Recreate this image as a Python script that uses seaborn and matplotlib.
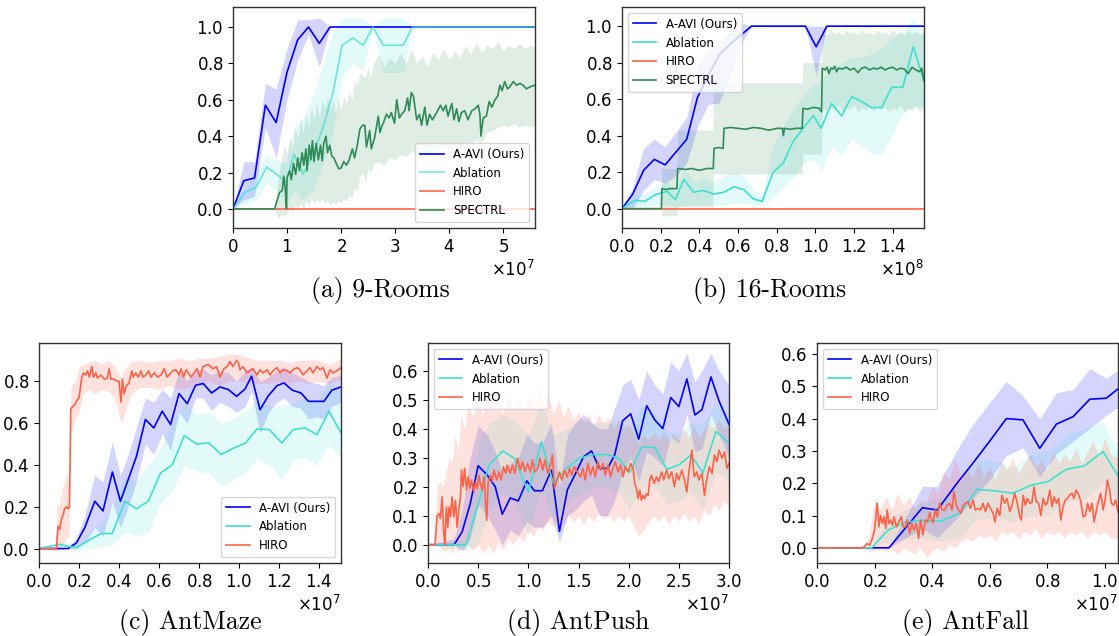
import numpy as np
import matplotlib
matplotlib.use("Agg")
import matplotlib.pyplot as plt
from matplotlib.ticker import MultipleLocator
import seaborn as sns

plt.rcParams['axes.formatter.use_mathtext'] = True
plt.rcParams['axes.edgecolor'] = '#333333'
plt.rcParams['axes.linewidth'] = 1.0
plt.rcParams['font.family'] = ['DejaVu Sans']

C_AVI = '#0000ff'
C_ABL = '#40e0d0'
C_HIRO = '#ff6347'
C_SPEC = '#2e8b57'

LABELS = ['A-AVI (Ours)', 'Ablation', 'HIRO', 'SPECTRL']
CAPTIONS = ['(a) 9-Rooms', '(b) 16-Rooms', '(c) AntMaze', '(d) AntPush', '(e) AntFall']

# ---------------- (a) 9-Rooms  (x in 1e7) ----------------
AVI_A_X = np.linspace(0, 5.59, 29)
AVI_A_Y = [0.0, 0.155, 0.17, 0.57, 0.475, 0.75, 0.93, 1.0, 0.91, 1.0,
           1.0, 1.0, 1.0, 1.0, 1.0, 1.0, 1.0, 1.0, 1.0, 1.0,
           1.0, 1.0, 1.0, 1.0, 1.0, 1.0, 1.0, 1.0, 1.0]
AVI_A_HI = [0.0, 0.26, 0.26, 0.69, 0.66, 0.88, 1.04, 1.04, 1.05, 1.0,
            1.0, 1.0, 1.0, 1.0, 1.0, 1.0, 1.0, 1.0, 1.0, 1.0,
            1.0, 1.0, 1.0, 1.0, 1.0, 1.0, 1.0, 1.0, 1.0]
AVI_A_LO = [0.0, 0.05, 0.07, 0.45, 0.28, 0.6, 0.82, 0.96, 0.78, 1.0,
            1.0, 1.0, 1.0, 1.0, 1.0, 1.0, 1.0, 1.0, 1.0, 1.0,
            1.0, 1.0, 1.0, 1.0, 1.0, 1.0, 1.0, 1.0, 1.0]
# rows: (x, mean, lo, hi)
ABL_A = [(0.00, 0.00, 0.00, 0.00), (0.22, 0.09, 0.03, 0.12), (0.43, 0.12, 0.05, 0.20),
         (0.62, 0.23, 0.14, 0.30), (0.81, 0.19, 0.10, 0.27), (0.98, 0.15, 0.02, 0.25),
         (1.13, 0.30, 0.10, 0.45), (1.30, 0.19, 0.05, 0.50), (1.48, 0.30, 0.10, 0.62),
         (1.67, 0.45, 0.25, 0.80), (1.85, 0.64, 0.40, 0.97), (2.02, 0.90, 0.73, 1.05),
         (2.22, 0.94, 0.80, 1.05), (2.41, 0.90, 0.76, 1.05), (2.59, 1.00, 1.00, 1.00),
         (2.78, 0.90, 0.75, 1.05), (3.15, 0.90, 0.75, 1.05), (3.32, 1.00, 1.00, 1.00),
         (5.59, 1.00, 1.00, 1.00)]
HIRO_A = [(0.0, 0.0), (5.59, 0.0)]
SPEC_A = [(0, 0), (0.77, 0), (0.86, 0.09), (0.91, 0.10), (0.94, 0.18), (0.97, 0.10), (0.99, 0.0),
          (1.0, 0.17), (1.05, 0.21), (1.08, 0.16), (1.12, 0.25), (1.16, 0.19), (1.2, 0.28),
          (1.23, 0.21), (1.28, 0.31), (1.31, 0.24), (1.35, 0.33), (1.37, 0.21), (1.41, 0.35),
          (1.44, 0.27), (1.47, 0.375), (1.5, 0.26), (1.54, 0.36), (1.58, 0.27), (1.62, 0.35),
          (1.65, 0.265), (1.68, 0.36), (1.72, 0.40), (1.75, 0.31), (1.79, 0.35), (1.83, 0.29),
          (1.87, 0.28), (1.91, 0.25), (1.96, 0.22), (2.0, 0.225), (2.05, 0.26), (2.1, 0.24),
          (2.15, 0.27), (2.21, 0.33), (2.25, 0.28), (2.3, 0.35), (2.35, 0.44), (2.4, 0.46),
          (2.44, 0.46), (2.47, 0.34), (2.53, 0.43), (2.56, 0.33), (2.62, 0.39), (2.69, 0.51),
          (2.72, 0.42), (2.76, 0.46), (2.78, 0.47), (2.84, 0.52), (2.89, 0.50), (2.93, 0.53),
          (2.99, 0.47), (3.03, 0.60), (3.08, 0.50), (3.12, 0.52), (3.18, 0.54), (3.23, 0.61),
          (3.26, 0.54), (3.30, 0.64), (3.34, 0.62), (3.40, 0.49), (3.45, 0.52), (3.49, 0.46),
          (3.55, 0.56), (3.59, 0.46), (3.64, 0.52), (3.69, 0.49), (3.77, 0.53), (3.84, 0.57),
          (3.89, 0.54), (3.94, 0.57), (3.98, 0.51), (4.05, 0.58), (4.09, 0.49), (4.14, 0.55),
          (4.18, 0.48), (4.23, 0.53), (4.29, 0.54), (4.35, 0.49), (4.42, 0.54), (4.48, 0.55),
          (4.54, 0.57), (4.57, 0.52), (4.59, 0.40), (4.63, 0.50), (4.69, 0.51), (4.74, 0.59),
          (4.79, 0.56), (4.85, 0.60), (4.90, 0.62), (4.94, 0.68), (4.98, 0.65), (5.03, 0.70),
          (5.08, 0.66), (5.12, 0.67), (5.19, 0.70), (5.25, 0.68), (5.31, 0.69), (5.37, 0.68),
          (5.43, 0.66), (5.49, 0.67), (5.59, 0.68)]
# rows: (x, lo, hi)
SPEC_A_BAND = [(0.77, 0.0, 0.0), (0.8, -0.03, 0.08), (0.85, -0.05, 0.2), (0.9, -0.03, 0.27),
               (0.95, -0.04, 0.35), (1.0, -0.02, 0.3), (1.05, 0.0, 0.4), (1.1, -0.02, 0.33),
               (1.15, 0.02, 0.45), (1.2, 0.0, 0.38), (1.25, 0.03, 0.5), (1.3, 0.0, 0.42),
               (1.35, 0.05, 0.52), (1.4, 0.02, 0.45), (1.45, 0.06, 0.55), (1.5, 0.03, 0.5),
               (1.55, 0.05, 0.58), (1.6, 0.04, 0.5), (1.65, 0.06, 0.6), (1.7, 0.03, 0.55),
               (1.75, 0.05, 0.62), (1.8, 0.02, 0.55), (1.85, 0.04, 0.6), (1.9, 0.02, 0.52),
               (1.95, 0.05, 0.6), (2.0, 0.03, 0.55), (2.05, 0.06, 0.62), (2.1, 0.04, 0.58),
               (2.15, 0.08, 0.65), (2.2, 0.06, 0.6), (2.25, 0.12, 0.7), (2.3, 0.1, 0.68),
               (2.35, 0.18, 0.75), (2.4, 0.2, 0.73), (2.45, 0.15, 0.72), (2.5, 0.22, 0.78),
               (2.55, 0.2, 0.72), (2.6, 0.25, 0.8), (2.7, 0.26, 0.85), (2.8, 0.24, 0.78),
               (2.9, 0.28, 0.83), (3.0, 0.27, 0.8), (3.1, 0.3, 0.86), (3.2, 0.29, 0.8),
               (3.3, 0.32, 0.88), (3.4, 0.3, 0.8), (3.5, 0.32, 0.84), (3.6, 0.31, 0.78),
               (3.7, 0.33, 0.86), (3.8, 0.32, 0.82), (3.9, 0.34, 0.88), (4.0, 0.33, 0.82),
               (4.1, 0.35, 0.87), (4.2, 0.34, 0.83), (4.3, 0.37, 0.9), (4.4, 0.36, 0.85),
               (4.5, 0.38, 0.91), (4.6, 0.36, 0.86), (4.7, 0.42, 0.9), (4.8, 0.43, 0.88),
               (4.9, 0.45, 0.92), (5.0, 0.46, 0.87), (5.1, 0.45, 0.9), (5.2, 0.47, 0.88),
               (5.3, 0.45, 0.91), (5.4, 0.46, 0.88), (5.5, 0.45, 0.9), (5.59, 0.46, 0.89)]

# ---------------- (b) 16-Rooms  (x in 1e8) ----------------
AVI_B_X = np.linspace(0, 1.562, 29)
AVI_B_Y = [0.0, 0.08, 0.21, 0.27, 0.24, 0.31, 0.38, 0.61, 0.73, 0.84,
           0.90, 0.95, 1.0, 1.0, 1.0, 1.0, 1.0, 1.0, 0.887, 1.0,
           1.0, 1.0, 1.0, 1.0, 1.0, 1.0, 1.0, 1.0, 1.0]
AVI_B_HI = [0.0, 0.12, 0.33, 0.38, 0.34, 0.42, 0.5, 0.78, 0.86, 0.91,
            0.97, 1.02, 1.0, 1.0, 1.0, 1.0, 1.0, 1.0, 1.0, 1.0,
            1.0, 1.0, 1.0, 1.0, 1.0, 1.0, 1.0, 1.0, 1.0]
AVI_B_LO = [0.0, 0.0, 0.1, 0.16, 0.14, 0.18, 0.25, 0.45, 0.57, 0.58,
            0.72, 0.9, 1.0, 1.0, 1.0, 1.0, 1.0, 1.0, 0.73, 1.0,
            1.0, 1.0, 1.0, 1.0, 1.0, 1.0, 1.0, 1.0, 1.0]
ABL_B = [(0, 0, 0, 0), (0.066, 0.046, 0.01, 0.08), (0.117, 0.04, 0.01, 0.08),
         (0.173, 0.077, 0.02, 0.12), (0.233, 0.095, 0.02, 0.15), (0.276, 0.05, 0.01, 0.1),
         (0.32, 0.16, 0.02, 0.22), (0.37, 0.09, 0.02, 0.15), (0.42, 0.10, 0.02, 0.17),
         (0.475, 0.08, 0.02, 0.15), (0.527, 0.09, 0.02, 0.18), (0.578, 0.12, 0.03, 0.2),
         (0.63, 0.104, 0.03, 0.18), (0.68, 0.053, 0.02, 0.1), (0.725, 0.04, 0.02, 0.08),
         (0.782, 0.2, 0.06, 0.35), (0.834, 0.25, 0.12, 0.45), (0.886, 0.37, 0.17, 0.55),
         (0.937, 0.44, 0.25, 0.62), (0.99, 0.51, 0.27, 0.68), (1.03, 0.44, 0.2, 0.7),
         (1.084, 0.577, 0.34, 0.78), (1.136, 0.508, 0.29, 0.8), (1.188, 0.614, 0.38, 0.83),
         (1.24, 0.587, 0.34, 0.83), (1.29, 0.554, 0.3, 0.85), (1.343, 0.554, 0.3, 0.88),
         (1.395, 0.665, 0.4, 0.93), (1.452, 0.665, 0.52, 0.97), (1.507, 0.887, 0.56, 1.04),
         (1.562, 0.70, 0.56, 0.95)]
HIRO_B = [(0.0, 0.0), (1.562, 0.0)]
SPEC_B = [(0.0, 0.0), (0.204, 0.0), (0.206, 0.11), (0.23, 0.105), (0.25, 0.11), (0.284, 0.11),
          (0.288, 0.22), (0.33, 0.215), (0.36, 0.22), (0.40, 0.21), (0.44, 0.22), (0.472, 0.22),
          (0.476, 0.33), (0.50, 0.335), (0.523, 0.33), (0.528, 0.44), (0.56, 0.445), (0.60, 0.44),
          (0.64, 0.435), (0.68, 0.445), (0.72, 0.44), (0.76, 0.43), (0.80, 0.44), (0.83, 0.44),
          (0.835, 0.40), (0.84, 0.44), (0.87, 0.435), (0.90, 0.44), (0.932, 0.44), (0.936, 0.55),
          (0.96, 0.545), (0.99, 0.555), (1.02, 0.55), (1.032, 0.53), (1.036, 0.77), (1.05, 0.76),
          (1.06, 0.775), (1.07, 0.74), (1.08, 0.77), (1.09, 0.765), (1.10, 0.78), (1.11, 0.75),
          (1.12, 0.77), (1.14, 0.765), (1.16, 0.775), (1.18, 0.76), (1.20, 0.77), (1.22, 0.745),
          (1.24, 0.77), (1.26, 0.775), (1.28, 0.76), (1.30, 0.77), (1.32, 0.765), (1.34, 0.775),
          (1.36, 0.76), (1.38, 0.77), (1.40, 0.775), (1.42, 0.76), (1.44, 0.77), (1.46, 0.765),
          (1.48, 0.74), (1.50, 0.775), (1.52, 0.76), (1.54, 0.75), (1.55, 0.77), (1.562, 0.70)]
SPEC_B_BAND = [(0.204, -0.04, 0.22), (0.285, -0.04, 0.22), (0.288, 0.01, 0.43), (0.47, 0.01, 0.43),
               (0.472, 0.19, 0.69), (0.932, 0.19, 0.69), (0.936, 0.30, 0.80), (1.032, 0.30, 0.80),
               (1.036, 0.55, 0.97), (1.06, 0.53, 0.95), (1.08, 0.56, 0.98), (1.10, 0.54, 0.96),
               (1.12, 0.57, 0.97), (1.14, 0.53, 0.95), (1.16, 0.56, 0.98), (1.18, 0.54, 0.96),
               (1.20, 0.57, 0.97), (1.22, 0.53, 0.95), (1.24, 0.55, 0.98), (1.26, 0.54, 0.96),
               (1.28, 0.57, 0.97), (1.30, 0.53, 0.95), (1.32, 0.56, 0.98), (1.34, 0.54, 0.96),
               (1.36, 0.56, 0.97), (1.38, 0.53, 0.95), (1.40, 0.55, 0.98), (1.42, 0.54, 0.96),
               (1.44, 0.57, 0.97), (1.46, 0.53, 0.95), (1.48, 0.55, 0.98), (1.50, 0.54, 0.96),
               (1.52, 0.56, 0.97), (1.54, 0.53, 0.95), (1.562, 0.55, 0.97)]

# ---------------- (c) AntMaze  (x in 1e7) ----------------
AVI_C = [(0, 0, 0, 0), (0.145, 0.0, 0.0, 0.0), (0.187, 0.027, 0.0, 0.05), (0.229, 0.10, 0.03, 0.16),
         (0.279, 0.226, 0.1, 0.35), (0.32, 0.18, 0.06, 0.32), (0.367, 0.366, 0.22, 0.51),
         (0.407, 0.226, 0.1, 0.35), (0.446, 0.33, 0.2, 0.45), (0.487, 0.44, 0.32, 0.58),
         (0.532, 0.617, 0.5, 0.72), (0.574, 0.577, 0.45, 0.70), (0.616, 0.657, 0.55, 0.76),
         (0.658, 0.593, 0.47, 0.72), (0.70, 0.741, 0.65, 0.85), (0.741, 0.693, 0.6, 0.8),
         (0.783, 0.781, 0.72, 0.85), (0.821, 0.789, 0.72, 0.86), (0.863, 0.744, 0.66, 0.83),
         (0.905, 0.773, 0.7, 0.85), (0.947, 0.76, 0.68, 0.84), (0.988, 0.728, 0.65, 0.8),
         (1.03, 0.763, 0.68, 0.85), (1.063, 0.824, 0.75, 0.87), (1.105, 0.664, 0.55, 0.8),
         (1.147, 0.731, 0.65, 0.82), (1.19, 0.779, 0.7, 0.85), (1.225, 0.792, 0.72, 0.87),
         (1.267, 0.757, 0.68, 0.84), (1.31, 0.744, 0.67, 0.82), (1.347, 0.704, 0.62, 0.8),
         (1.386, 0.704, 0.63, 0.79), (1.425, 0.704, 0.62, 0.78), (1.464, 0.757, 0.68, 0.82),
         (1.51, 0.773, 0.7, 0.83)]
ABL_C = [(0, 0, 0, 0), (0.1, 0.02, 0.0, 0.03), (0.145, 0.01, 0.0, 0.03), (0.19, 0.005, -0.01, 0.02),
         (0.254, 0.043, 0.0, 0.08), (0.312, 0.072, 0.01, 0.12), (0.366, 0.072, 0.02, 0.2),
         (0.43, 0.226, 0.08, 0.35), (0.487, 0.19, 0.06, 0.32), (0.546, 0.226, 0.08, 0.4),
         (0.608, 0.362, 0.22, 0.48), (0.666, 0.40, 0.27, 0.6), (0.726, 0.54, 0.4, 0.7),
         (0.788, 0.50, 0.37, 0.64), (0.85, 0.505, 0.36, 0.65), (0.91, 0.45, 0.3, 0.6),
         (0.972, 0.48, 0.33, 0.62), (1.033, 0.505, 0.36, 0.66), (1.09, 0.572, 0.43, 0.71),
         (1.152, 0.569, 0.4, 0.68), (1.214, 0.505, 0.33, 0.68), (1.272, 0.569, 0.42, 0.7),
         (1.33, 0.577, 0.44, 0.72), (1.39, 0.545, 0.4, 0.7), (1.45, 0.657, 0.5, 0.8),
         (1.51, 0.553, 0.43, 0.75)]
HIRO_C = [(0, 0), (0.087, 0), (0.095, 0.107), (0.103, 0.09), (0.112, 0.14), (0.12, 0.16), (0.128, 0.19),
          (0.137, 0.20), (0.145, 0.19), (0.152, 0.2), (0.159, 0.67), (0.17, 0.68), (0.18, 0.69),
          (0.19, 0.71), (0.2, 0.72), (0.214, 0.82), (0.222, 0.84), (0.234, 0.83), (0.242, 0.85),
          (0.252, 0.82), (0.264, 0.87), (0.272, 0.82), (0.284, 0.84), (0.292, 0.815), (0.31, 0.83),
          (0.326, 0.81), (0.342, 0.815), (0.35, 0.86), (0.36, 0.81), (0.375, 0.81), (0.39, 0.80),
          (0.40, 0.80), (0.41, 0.70), (0.417, 0.81), (0.426, 0.74), (0.437, 0.78), (0.45, 0.79),
          (0.464, 0.85), (0.472, 0.82), (0.484, 0.84), (0.497, 0.82), (0.51, 0.85), (0.52, 0.82),
          (0.534, 0.83), (0.548, 0.85), (0.56, 0.82), (0.576, 0.84), (0.593, 0.82), (0.61, 0.83),
          (0.626, 0.86), (0.64, 0.82), (0.65, 0.83), (0.668, 0.85), (0.684, 0.855), (0.70, 0.83),
          (0.71, 0.86), (0.723, 0.82), (0.735, 0.855), (0.746, 0.84), (0.76, 0.82), (0.79, 0.86),
          (0.805, 0.82), (0.82, 0.87), (0.846, 0.88), (0.87, 0.86), (0.888, 0.87), (0.905, 0.82),
          (0.925, 0.86), (0.94, 0.87), (0.955, 0.895), (0.97, 0.87), (0.988, 0.90), (0.997, 0.89),
          (1.005, 0.855), (1.02, 0.87), (1.04, 0.84), (1.055, 0.85), (1.07, 0.86), (1.09, 0.83),
          (1.105, 0.855), (1.12, 0.84), (1.14, 0.855), (1.155, 0.83), (1.17, 0.85), (1.19, 0.865),
          (1.205, 0.84), (1.22, 0.855), (1.24, 0.85), (1.255, 0.84), (1.27, 0.855), (1.29, 0.865),
          (1.305, 0.855), (1.32, 0.83), (1.34, 0.85), (1.355, 0.865), (1.37, 0.84), (1.39, 0.87),
          (1.405, 0.855), (1.42, 0.865), (1.44, 0.815), (1.455, 0.855), (1.47, 0.84), (1.49, 0.85),
          (1.51, 0.865)]
HIRO_C_BAND = [(0, 0, 0), (0.085, -0.01, 0.01), (0.09, -0.02, 0.22), (0.1, 0.0, 0.2), (0.12, 0.02, 0.3),
               (0.14, 0.05, 0.36), (0.15, 0.06, 0.3), (0.16, 0.55, 0.78), (0.18, 0.62, 0.8),
               (0.2, 0.65, 0.87), (0.22, 0.74, 0.88), (0.25, 0.76, 0.89), (0.28, 0.74, 0.9),
               (0.31, 0.76, 0.88), (0.35, 0.75, 0.9), (0.38, 0.72, 0.87), (0.41, 0.6, 0.82),
               (0.43, 0.65, 0.86), (0.46, 0.74, 0.89), (0.5, 0.77, 0.9), (0.55, 0.77, 0.89),
               (0.6, 0.76, 0.9), (0.65, 0.78, 0.9), (0.7, 0.76, 0.91), (0.75, 0.77, 0.9),
               (0.8, 0.78, 0.91), (0.85, 0.8, 0.91), (0.9, 0.78, 0.92), (0.95, 0.8, 0.93),
               (1.0, 0.8, 0.93), (1.05, 0.79, 0.91), (1.1, 0.79, 0.9), (1.15, 0.79, 0.9),
               (1.2, 0.8, 0.9), (1.25, 0.79, 0.89), (1.3, 0.8, 0.9), (1.35, 0.79, 0.9),
               (1.4, 0.8, 0.9), (1.45, 0.79, 0.88), (1.51, 0.81, 0.91)]

# ---------------- (d) AntPush  (x in 1e7) ----------------
AVI_D = [(0, 0, 0, 0), (0.26, 0.0, 0.0, 0.02), (0.34, 0.044, -0.02, 0.12), (0.42, 0.14, 0.02, 0.30),
         (0.50, 0.272, 0.14, 0.41), (0.59, 0.24, 0.1, 0.38), (0.67, 0.20, 0.05, 0.32),
         (0.74, 0.105, 0.0, 0.25), (0.82, 0.161, 0.05, 0.28), (0.90, 0.151, 0.03, 0.3),
         (0.985, 0.22, 0.08, 0.38), (1.06, 0.186, 0.06, 0.35), (1.14, 0.186, 0.06, 0.35),
         (1.23, 0.257, 0.1, 0.42), (1.31, 0.046, 0.01, 0.2), (1.39, 0.19, 0.1, 0.38),
         (1.47, 0.245, 0.12, 0.42), (1.55, 0.303, 0.15, 0.45), (1.63, 0.323, 0.17, 0.42),
         (1.71, 0.263, 0.1, 0.4), (1.79, 0.263, 0.1, 0.4), (1.86, 0.309, 0.15, 0.47),
         (1.94, 0.427, 0.25, 0.55), (2.02, 0.451, 0.3, 0.57), (2.10, 0.364, 0.22, 0.5),
         (2.18, 0.479, 0.32, 0.6), (2.26, 0.43, 0.3, 0.55), (2.34, 0.40, 0.27, 0.52),
         (2.42, 0.507, 0.37, 0.63), (2.50, 0.476, 0.35, 0.6), (2.58, 0.571, 0.45, 0.66),
         (2.66, 0.447, 0.32, 0.56), (2.73, 0.465, 0.33, 0.6), (2.82, 0.578, 0.45, 0.66),
         (2.90, 0.496, 0.38, 0.6), (3.0, 0.415, 0.3, 0.55)]
ABL_D = [(0, 0, 0, 0), (0.38, 0.0, -0.02, 0.02), (0.5, 0.14, 0.0, 0.35), (0.61, 0.275, 0.12, 0.42),
         (0.745, 0.323, 0.18, 0.45), (0.86, 0.298, 0.15, 0.43), (1.0, 0.182, 0.03, 0.38),
         (1.13, 0.355, 0.2, 0.49), (1.25, 0.211, 0.08, 0.38), (1.38, 0.263, 0.15, 0.4),
         (1.51, 0.298, 0.17, 0.43), (1.65, 0.311, 0.2, 0.42), (1.78, 0.311, 0.2, 0.42),
         (1.9, 0.298, 0.18, 0.43), (2.01, 0.248, 0.12, 0.4), (2.13, 0.336, 0.2, 0.48),
         (2.26, 0.336, 0.2, 0.45), (2.38, 0.26, 0.14, 0.39), (2.5, 0.275, 0.15, 0.38),
         (2.62, 0.309, 0.18, 0.42), (2.74, 0.248, 0.12, 0.42), (2.87, 0.39, 0.25, 0.49),
         (3.0, 0.35, 0.22, 0.45)]
HIRO_D = [(0.0, 0.0), (0.07, 0.0), (0.09, 0.10), (0.11, 0.107), (0.124, 0.09), (0.14, 0.165),
          (0.157, 0.04), (0.167, 0.0), (0.184, 0.13), (0.197, 0.06), (0.21, 0.13), (0.224, 0.096),
          (0.24, 0.165), (0.257, 0.096), (0.274, 0.153), (0.29, 0.06), (0.307, 0.12), (0.324, 0.165),
          (0.334, 0.257), (0.35, 0.20), (0.364, 0.263), (0.384, 0.188), (0.40, 0.234), (0.418, 0.194),
          (0.434, 0.223), (0.458, 0.182), (0.474, 0.217), (0.49, 0.194), (0.508, 0.24), (0.525, 0.205),
          (0.54, 0.188), (0.558, 0.234), (0.585, 0.084), (0.60, 0.217), (0.625, 0.24), (0.64, 0.217),
          (0.658, 0.257), (0.685, 0.223), (0.708, 0.251), (0.73, 0.223), (0.752, 0.269), (0.775, 0.246),
          (0.79, 0.274), (0.818, 0.246), (0.842, 0.274), (0.865, 0.246), (0.892, 0.298), (0.92, 0.257),
          (0.942, 0.286), (0.966, 0.251), (0.992, 0.28), (1.02, 0.251), (1.04, 0.292), (1.066, 0.251),
          (1.093, 0.263), (1.116, 0.298), (1.143, 0.257), (1.166, 0.292), (1.193, 0.246), (1.22, 0.274),
          (1.24, 0.309), (1.26, 0.194), (1.286, 0.223), (1.31, 0.251), (1.333, 0.223), (1.36, 0.257),
          (1.387, 0.234), (1.41, 0.263), (1.433, 0.24), (1.46, 0.269), (1.487, 0.251), (1.52, 0.234),
          (1.544, 0.263), (1.567, 0.223), (1.593, 0.28), (1.62, 0.24), (1.644, 0.269), (1.667, 0.234),
          (1.694, 0.286), (1.72, 0.257), (1.744, 0.28), (1.767, 0.24), (1.794, 0.274), (1.82, 0.234),
          (1.844, 0.263), (1.867, 0.286), (1.894, 0.251), (1.92, 0.274), (1.944, 0.234), (1.967, 0.269),
          (1.994, 0.251), (2.02, 0.28), (2.044, 0.263), (2.06, 0.211), (2.077, 0.194), (2.094, 0.159),
          (2.11, 0.188), (2.127, 0.153), (2.144, 0.17), (2.16, 0.159), (2.177, 0.176), (2.194, 0.17),
          (2.21, 0.223), (2.227, 0.24), (2.254, 0.211), (2.277, 0.234), (2.30, 0.217), (2.328, 0.251),
          (2.35, 0.223), (2.378, 0.257), (2.40, 0.228), (2.428, 0.251), (2.455, 0.20), (2.478, 0.246),
          (2.50, 0.223), (2.53, 0.257), (2.556, 0.223), (2.58, 0.182), (2.60, 0.251), (2.63, 0.326),
          (2.653, 0.234), (2.68, 0.251), (2.70, 0.223), (2.73, 0.246), (2.756, 0.17), (2.78, 0.228),
          (2.803, 0.269), (2.83, 0.246), (2.856, 0.309), (2.88, 0.286), (2.90, 0.326), (2.93, 0.298),
          (2.956, 0.32), (2.98, 0.263), (3.0, 0.28)]
HIRO_D_BAND = [(0, 0, 0), (0.07, 0, 0.0), (0.09, 0.0, 0.2), (0.12, -0.01, 0.22), (0.15, -0.02, 0.2),
               (0.18, -0.02, 0.25), (0.21, -0.01, 0.3), (0.24, -0.03, 0.28), (0.27, 0.0, 0.38),
               (0.3, -0.03, 0.32), (0.33, 0.0, 0.45), (0.36, -0.02, 0.4), (0.4, 0.0, 0.48),
               (0.45, -0.02, 0.44), (0.5, 0.0, 0.5), (0.55, -0.03, 0.45), (0.6, 0.0, 0.52),
               (0.65, -0.03, 0.46), (0.7, 0.01, 0.5), (0.75, -0.02, 0.45), (0.8, 0.02, 0.52),
               (0.85, 0.0, 0.47), (0.9, 0.03, 0.5), (0.95, 0.01, 0.46), (1.0, 0.05, 0.52),
               (1.05, 0.03, 0.47), (1.1, 0.06, 0.55), (1.15, 0.05, 0.48), (1.2, 0.08, 0.52),
               (1.25, 0.06, 0.45), (1.3, 0.09, 0.5), (1.35, 0.07, 0.44), (1.4, 0.1, 0.48),
               (1.45, 0.08, 0.43), (1.5, 0.1, 0.46), (1.55, 0.07, 0.42), (1.6, 0.1, 0.45),
               (1.65, 0.08, 0.41), (1.7, 0.11, 0.45), (1.75, 0.09, 0.42), (1.8, 0.1, 0.44),
               (1.85, 0.08, 0.4), (1.9, 0.1, 0.43), (1.95, 0.08, 0.4), (2.0, 0.1, 0.42),
               (2.05, 0.06, 0.38), (2.1, 0.03, 0.35), (2.15, 0.05, 0.38), (2.2, 0.08, 0.36),
               (2.25, 0.1, 0.39), (2.3, 0.08, 0.36), (2.35, 0.1, 0.39), (2.4, 0.07, 0.36),
               (2.45, 0.1, 0.38), (2.5, 0.08, 0.36), (2.55, 0.11, 0.4), (2.6, 0.08, 0.37),
               (2.65, 0.1, 0.41), (2.7, 0.07, 0.37), (2.75, 0.12, 0.4), (2.8, 0.1, 0.42),
               (2.85, 0.14, 0.4), (2.9, 0.12, 0.43), (2.95, 0.15, 0.4), (3.0, 0.13, 0.42)]

# ---------------- (e) AntFall  (x in 1e7) ----------------
AVI_E = [(0, 0, 0, 0), (0.25, 0.0, 0.0, 0.0), (0.366, 0.124, 0.06, 0.19), (0.418, 0.117, 0.03, 0.19),
         (0.485, 0.198, 0.09, 0.3), (0.54, 0.26, 0.15, 0.38), (0.60, 0.33, 0.21, 0.45),
         (0.658, 0.40, 0.285, 0.515), (0.716, 0.396, 0.31, 0.47), (0.774, 0.308, 0.22, 0.4),
         (0.832, 0.383, 0.29, 0.48), (0.89, 0.406, 0.33, 0.49), (0.948, 0.46, 0.37, 0.555),
         (1.005, 0.463, 0.41, 0.525), (1.046, 0.492, 0.435, 0.55)]
ABL_E = [(0, 0, 0, 0), (0.19, 0.0, 0.0, 0.0), (0.247, 0.055, 0.02, 0.09), (0.31, 0.08, 0.03, 0.12),
         (0.368, 0.084, 0.03, 0.14), (0.432, 0.083, 0.02, 0.15), (0.496, 0.107, 0.03, 0.2),
         (0.557, 0.181, 0.09, 0.27), (0.62, 0.176, 0.09, 0.27), (0.68, 0.169, 0.08, 0.25),
         (0.745, 0.194, 0.1, 0.29), (0.803, 0.205, 0.1, 0.3), (0.866, 0.243, 0.14, 0.35),
         (0.93, 0.254, 0.15, 0.37), (0.994, 0.298, 0.2, 0.39), (1.046, 0.223, 0.15, 0.3)]
HIRO_E = [(0, 0), (0.16, 0), (0.174, 0.013), (0.183, 0.008), (0.192, 0.029), (0.2, 0.055), (0.209, 0.138),
          (0.215, 0.065), (0.221, 0.1), (0.227, 0.075), (0.233, 0.096), (0.239, 0.06), (0.244, 0.117),
          (0.25, 0.075), (0.256, 0.086), (0.262, 0.07), (0.268, 0.096), (0.276, 0.065), (0.284, 0.08),
          (0.293, 0.096), (0.299, 0.065), (0.307, 0.065), (0.314, 0.086), (0.322, 0.044), (0.33, 0.075),
          (0.337, 0.055), (0.345, 0.075), (0.353, 0.029), (0.36, 0.086), (0.368, 0.04), (0.377, 0.086),
          (0.384, 0.08), (0.392, 0.11), (0.397, 0.09), (0.403, 0.078), (0.411, 0.117), (0.418, 0.096),
          (0.426, 0.138), (0.435, 0.117), (0.444, 0.117), (0.452, 0.132), (0.461, 0.138), (0.469, 0.117),
          (0.476, 0.174), (0.484, 0.132), (0.492, 0.117), (0.5, 0.107), (0.508, 0.132), (0.516, 0.138),
          (0.525, 0.143), (0.533, 0.122), (0.542, 0.148), (0.55, 0.117), (0.56, 0.122), (0.568, 0.117),
          (0.577, 0.138), (0.585, 0.112), (0.594, 0.138), (0.603, 0.122), (0.612, 0.107), (0.618, 0.08),
          (0.626, 0.122), (0.635, 0.1), (0.643, 0.163), (0.652, 0.138), (0.66, 0.153), (0.67, 0.112),
          (0.678, 0.132), (0.687, 0.169), (0.695, 0.143), (0.705, 0.096), (0.71, 0.086), (0.716, 0.163),
          (0.724, 0.132), (0.731, 0.153), (0.74, 0.138), (0.747, 0.14), (0.754, 0.189), (0.762, 0.143),
          (0.77, 0.138), (0.778, 0.1), (0.786, 0.153), (0.794, 0.132), (0.8, 0.138), (0.809, 0.179),
          (0.817, 0.127), (0.824, 0.158), (0.832, 0.138), (0.84, 0.153), (0.847, 0.086), (0.855, 0.127),
          (0.863, 0.148), (0.87, 0.153), (0.878, 0.163), (0.886, 0.169), (0.893, 0.153), (0.9, 0.179),
          (0.91, 0.163), (0.917, 0.143), (0.925, 0.096), (0.933, 0.1), (0.94, 0.138), (0.948, 0.112),
          (0.956, 0.138), (0.963, 0.08), (0.971, 0.117), (0.979, 0.148), (0.986, 0.169), (0.994, 0.117),
          (1.002, 0.153), (1.009, 0.21), (1.017, 0.179), (1.023, 0.138), (1.031, 0.132), (1.038, 0.148),
          (1.046, 0.112)]
HIRO_E_BAND = [(0, 0, 0), (0.16, 0, 0), (0.18, -0.01, 0.03), (0.2, -0.01, 0.15), (0.22, 0.0, 0.12),
               (0.24, -0.01, 0.16), (0.26, 0.0, 0.12), (0.28, -0.02, 0.17), (0.3, 0.0, 0.13),
               (0.32, -0.01, 0.16), (0.34, -0.02, 0.12), (0.36, 0.0, 0.15), (0.38, -0.03, 0.14),
               (0.4, -0.01, 0.19), (0.42, 0.0, 0.17), (0.44, -0.01, 0.24), (0.46, 0.01, 0.21),
               (0.48, 0.0, 0.28), (0.5, 0.02, 0.22), (0.52, 0.03, 0.25), (0.54, 0.02, 0.22),
               (0.56, 0.04, 0.26), (0.58, 0.03, 0.22), (0.6, 0.04, 0.25), (0.62, 0.02, 0.21),
               (0.64, 0.05, 0.27), (0.66, 0.04, 0.24), (0.68, 0.05, 0.28), (0.7, 0.03, 0.23),
               (0.72, 0.05, 0.26), (0.74, 0.04, 0.29), (0.76, 0.06, 0.25), (0.78, 0.03, 0.27),
               (0.8, 0.05, 0.24), (0.82, 0.04, 0.3), (0.84, 0.05, 0.26), (0.86, 0.03, 0.29),
               (0.88, 0.05, 0.27), (0.9, 0.04, 0.31), (0.92, 0.05, 0.26), (0.94, 0.03, 0.3),
               (0.96, 0.05, 0.33), (0.98, 0.04, 0.28), (1.0, 0.05, 0.34), (1.02, 0.03, 0.29),
               (1.046, 0.03, 0.28)]

# tick steps (x in the panel's unit)
XSTEP = [1.0, 0.2, 0.2, 0.5, 0.2]
YSTEP = [0.2, 0.2, 0.2, 0.1, 0.1]

# ---------------- drawing ----------------
W, H = 1119, 636
fig = plt.figure(figsize=(W / 100, H / 100), dpi=100)


def px_axes(x0, y0, x1, y1):
    return fig.add_axes([x0 / W, 1 - y1 / H, (x1 - x0) / W, (y1 - y0) / H])


def line(ax, x, y, color, scale, lw=1.2, alpha=1.0):
    sns.lineplot(x=np.asarray(x, float) * scale, y=np.asarray(y, float), ax=ax, color=color,
                 lw=lw, alpha=alpha, estimator=None, sort=False, errorbar=None)
    return ax.lines[-1]


def band(ax, x, lo, hi, color, scale, alpha=0.17):
    ax.fill_between(np.asarray(x, float) * scale, lo, hi, color=color, alpha=alpha, lw=0)


def rows(data):
    return [list(c) for c in zip(*data)]


def finish(ax, xlim, ylim, scale, xstep, ystep, handles, labels, loc):
    ax.set_xlim(xlim[0] * scale, xlim[1] * scale)
    ax.set_ylim(*ylim)
    ax.xaxis.set_major_locator(MultipleLocator(xstep * scale))
    ax.yaxis.set_major_locator(MultipleLocator(ystep))
    ax.set_xlabel('')
    ax.set_ylabel('')
    ax.tick_params(labelsize=12)
    ax.xaxis.get_offset_text().set_fontsize(12)
    ax.legend(handles, labels, loc=loc, fontsize=8.5)


# (a)
ax = px_axes(233, 7, 535, 228)
S = 1e7
band(ax, AVI_A_X, AVI_A_LO, AVI_A_HI, C_AVI, S)
h1 = line(ax, AVI_A_X, AVI_A_Y, C_AVI, S)
x, y, lo, hi = rows(ABL_A)
band(ax, x, lo, hi, C_ABL, S, 0.15)
h2 = line(ax, x, y, C_ABL, S, alpha=0.75)
x, y = rows(HIRO_A)
h3 = line(ax, x, y, C_HIRO, S)
x, lo, hi = rows(SPEC_A_BAND)
band(ax, x, lo, hi, C_SPEC, S, 0.15)
x, y = rows(SPEC_A)
h4 = line(ax, x, y, C_SPEC, S)
finish(ax, (0, 5.59), (-0.105, 1.11), S, XSTEP[0], YSTEP[0], [h1, h2, h3, h4], LABELS, 'lower right')

# (b)
ax = px_axes(622, 7, 924, 228)
S = 1e8
band(ax, AVI_B_X, AVI_B_LO, AVI_B_HI, C_AVI, S)
h1 = line(ax, AVI_B_X, AVI_B_Y, C_AVI, S)
x, y, lo, hi = rows(ABL_B)
band(ax, x, lo, hi, C_ABL, S, 0.15)
h2 = line(ax, x, y, C_ABL, S)
x, y = rows(HIRO_B)
h3 = line(ax, x, y, C_HIRO, S)
x, lo, hi = rows(SPEC_B_BAND)
band(ax, x, lo, hi, C_SPEC, S, 0.15)
x, y = rows(SPEC_B)
h4 = line(ax, x, y, C_SPEC, S)
finish(ax, (0, 1.562), (-0.106, 1.105), S, XSTEP[1], YSTEP[1], [h1, h2, h3, h4], LABELS, 'upper left')


def ant_panel(rect, avi, abl, hiro, hiro_band, xlim, ylim, xstep, ystep, loc):
    ax = px_axes(*rect)
    S = 1e7
    x, y, lo, hi = rows(avi)
    band(ax, x, lo, hi, C_AVI, S)
    h1 = line(ax, x, y, C_AVI, S)
    x, y, lo, hi = rows(abl)
    band(ax, x, lo, hi, C_ABL, S, 0.15)
    h2 = line(ax, x, y, C_ABL, S)
    x, lo, hi = rows(hiro_band)
    band(ax, x, lo, hi, C_HIRO, S, 0.18)
    x, y = rows(hiro)
    h3 = line(ax, x, y, C_HIRO, S)
    finish(ax, xlim, ylim, S, xstep, ystep, [h1, h2, h3], LABELS[:3], loc)


ant_panel((39, 343, 341, 563), AVI_C, ABL_C, HIRO_C, HIRO_C_BAND, (0, 1.51), (-0.069, 0.983),
          XSTEP[2], YSTEP[2], 'lower right')
ant_panel((428, 343, 729, 563), AVI_D, ABL_D, HIRO_D, HIRO_D_BAND, (0, 3.0), (-0.063, 0.695),
          XSTEP[3], YSTEP[3], 'upper left')
ant_panel((817, 343, 1118, 563), AVI_E, ABL_E, HIRO_E, HIRO_E_BAND, (0, 1.046), (-0.047, 0.634),
          XSTEP[4], YSTEP[4], 'upper left')

# captions
CAP_POS = [(380, 291), (770, 291), (190, 622), (578, 622), (966, 622)]
for (cx, cy), cap in zip(CAP_POS, CAPTIONS):
    fig.text(cx / W, 1 - cy / H, cap, family='cmr10', fontsize=18.5, ha='center', va='center')

fig.savefig('out.png', dpi=100)
